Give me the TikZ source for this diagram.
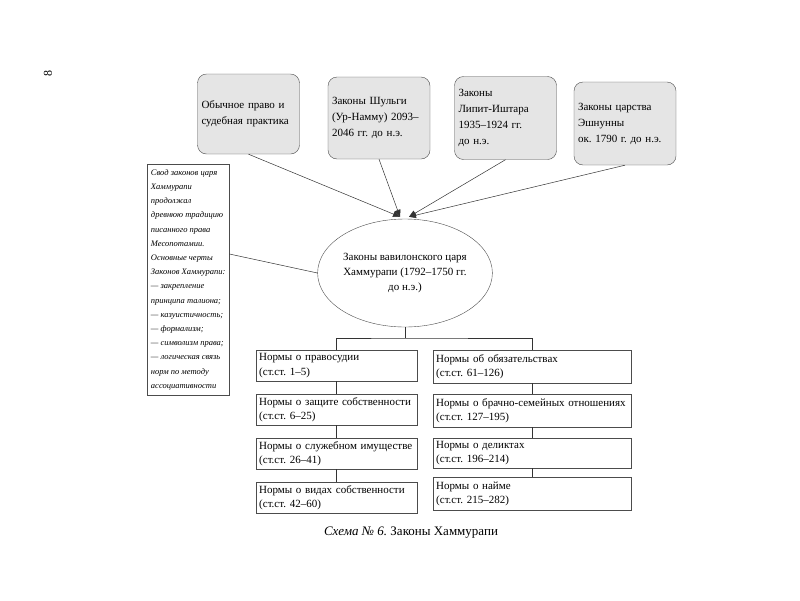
\documentclass[tikz,border=0pt]{standalone}
\usepackage{fontspec}
\setmainfont{Liberation Serif}
\usetikzlibrary{arrows.meta,shapes.geometric}
\frenchspacing
\tikzset{
  srcbox/.style={draw=gray!60!black, fill=gray!20, rounded corners=9pt, minimum height=80pt,
    text width=94pt, inner sep=4pt, align=left, font=\fontsize{11}{16}\selectfont},
  normbox/.style={draw=gray!60!black, inner sep=3pt, align=left, anchor=north west,
    font=\fontsize{11}{14.5}\selectfont},
  link/.style={draw=gray!40!black, line width=0.5pt},
  feed/.style={link, -{Triangle[length=7pt,width=6pt]}}
}
\begin{document}
\begin{tikzpicture}[x=1pt,y=-1pt]
\useasboundingbox (0,0) rectangle (800,600);
\node[rotate=90, font=\fontsize{12}{14}\selectfont] (page) at (48,73) {8};
% sources
\node[srcbox] (src1) at (248.5,114) {Обычное право и судебная практика};
\node[srcbox, minimum height=82pt] (src2) at (379,118) {Законы Шульги (Ур-Намму) 2093--2046 гг. до н.э.};
\node[srcbox, minimum height=83pt] (src3) at (505.5,118) {Законы\\ Липит-Иштара\\ 1935--1924 гг.\\ до н.э.};
\node[srcbox, minimum height=83pt] (src4) at (625,123.5) {Законы царства\\ Эшнунны\\ ок. 1790 г. до н.э.};
\node[draw=gray!60!black, ellipse, minimum width=156pt, minimum height=108pt, inner sep=0pt,
  align=center, font=\fontsize{11}{15}\selectfont] (ell) at (405,273)
  {Законы вавилонского царя\\ Хаммурапи (1792--1750 гг.\\ до н.э.)};
\draw[feed] (src1.south) -- ([xshift=-5pt,yshift=2pt]ell.north);
\draw[feed] (src2.south) -- ([xshift=-5pt,yshift=2pt]ell.north);
\draw[feed] (src3.south) -- ([xshift=4pt,yshift=2pt]ell.north);
\draw[feed] (src4.south) -- ([xshift=4pt,yshift=2pt]ell.north);
% note
\node[draw=gray!60!black, minimum width=82pt, minimum height=231pt, inner sep=3pt, anchor=north west,
  align=left, font=\fontsize{8.5}{14.2}\selectfont\itshape] (note) at (147,164)
  {Свод законов царя\\ Хаммурапи\\ продолжал\\ древнюю традицию\\ писанного права\\ Месопотамии.\\
   Основные черты\\ Законов Хаммурапи:\\ — закрепление\\ принципа талиона;\\ — казуистичность;\\
   — формализм;\\ — символизм права;\\ — логическая связь\\ норм по методу\\ ассоциативности};
\draw[link] (note.east |- 0,254) -- (ell.west);
% norms
\node[normbox, text width=155pt, minimum height=31pt] (l1) at (256,350) {Нормы о правосудии\\ (ст.ст. 1--5)};
\node[normbox, text width=155pt, minimum height=31pt] (l2) at (256,394) {Нормы о защите собственности\\ (ст.ст. 6--25)};
\node[normbox, text width=155pt, minimum height=31pt] (l3) at (256,438) {Нормы о служебном имуществе\\ (ст.ст. 26--41)};
\node[normbox, text width=155pt, minimum height=31pt] (l4) at (256,482) {Нормы о видах собственности\\ (ст.ст. 42--60)};
\node[normbox, text width=192pt, minimum height=33pt] (r1) at (433,350) {Нормы об обязательствах\\ (ст.ст. 61--126)};
\node[normbox, text width=192pt, minimum height=33pt] (r2) at (433,394) {Нормы о брачно-семейных отношениях\\ (ст.ст. 127--195)};
\node[normbox, text width=192pt, minimum height=28pt] (r3) at (433,438) {Нормы о деликтах\\ (ст.ст. 196--214)};
\node[normbox, text width=192pt, minimum height=33pt] (r4) at (433,477) {Нормы о найме\\ (ст.ст. 215--282)};
\coordinate (fork) at (405,338);
\draw[link] (ell.south) -- (fork);
\draw[link] (l1.north) |- (fork) -| (r1.north);
\foreach \a/\b in {l1/l2,l2/l3,l3/l4,r1/r2,r2/r3,r3/r4} {\draw[link] (\a.south) -- (\b.north);}
\node[font=\fontsize{13}{15}\selectfont] (cap) at (411,533) {\textit{Схема № 6.} Законы Хаммурапи};
\end{tikzpicture}
\end{document}
